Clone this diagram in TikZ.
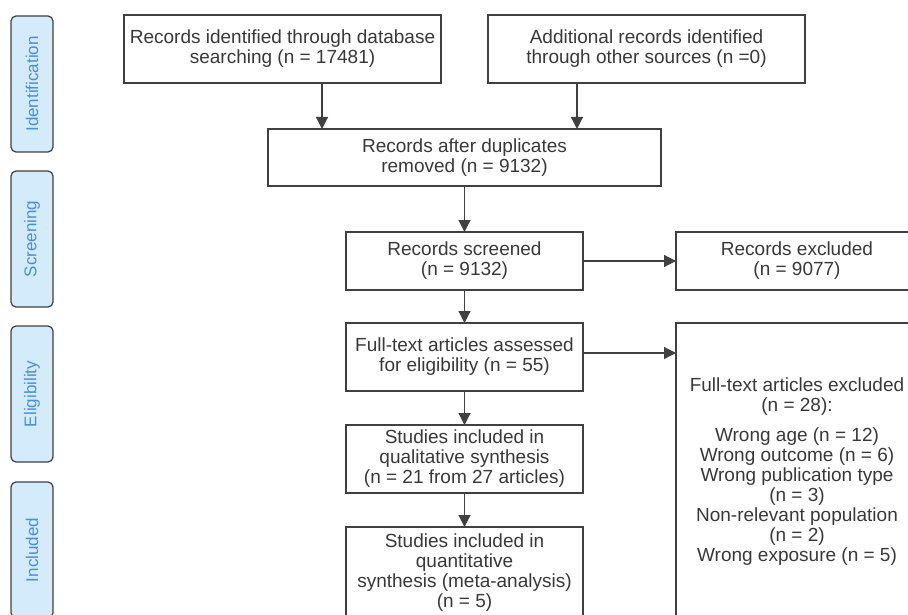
\documentclass[tikz,border=0pt]{standalone}
\usepackage{fontspec}
\setmainfont{Liberation Sans}
\usetikzlibrary{arrows.meta}
\definecolor{boxline}{HTML}{404040}
\definecolor{textgray}{HTML}{383838}
\definecolor{tabfill}{HTML}{D3EBFB}
\definecolor{tabtext}{HTML}{4A8FD8}

\begin{document}
\begin{tikzpicture}[
    x=1pt, y=-1pt,
    recordnode/.style={rectangle, draw=boxline, line width=1.2pt, text=textgray, inner sep=0pt, outer sep=0pt, align=center, font=\fontsize{19}{20}\selectfont},
    phasenode/.style={rectangle, rounded corners=5pt, draw=boxline, fill=tabfill, line width=1.2pt, text=tabtext, rotate=90, minimum width=136pt, minimum height=42pt, inner sep=0pt, font=\fontsize{17}{18}\selectfont},
    flow/.style={line width=1.2pt, draw=boxline, -{Triangle[length=12pt,width=12pt]}},
]
    \useasboundingbox (0,0) rectangle (908,615);
    \clip (0,0) rectangle (908,615);

    %Phases
    \node[phasenode] (ident) at (32,84) {Identification};
    \node[phasenode] (screen) at (32,239) {Screening};
    \node[phasenode] (elig) at (32,394) {Eligibility};
    \node[phasenode] (incl) at (32,550) {Included};

    %Nodes
    \node[recordnode, minimum width=317pt, minimum height=68pt] (dbrec) at (282.5,49) {Records identified through database\\searching (n = 17481)};
    \node[recordnode, minimum width=317pt, minimum height=68pt] (otherrec) at (646.5,49) {Additional records identified\\through other sources (n =0)};
    \node[recordnode, minimum width=393pt, minimum height=57pt] (dedup) at (464.5,157.5) {Records after duplicates\\removed (n = 9132)};
    \node[recordnode, minimum width=237pt, minimum height=58pt] (screened) at (464.5,261) {Records screened\\(n = 9132)};
    \node[recordnode, minimum width=242pt, minimum height=58pt] (recexcl) at (797,261) {Records excluded\\(n = 9077)};
    \node[recordnode, minimum width=237pt, minimum height=68pt] (fulltext) at (464.5,357) {Full-text articles assessed\\for eligibility (n = 55)};
    \node[recordnode, minimum width=242pt, minimum height=298pt] (ftexcl) at (797,472) {Full-text articles excluded\\(n = 28):\\[10pt]Wrong age (n = 12)\\Wrong outcome (n = 6)\\Wrong publication type\\(n = 3)\\Non-relevant population\\(n = 2)\\Wrong exposure (n = 5)};
    \node[recordnode, minimum width=237pt, minimum height=68pt] (qual) at (464.5,459) {Studies included in\\qualitative synthesis\\(n = 21 from 27 articles)};
    \node[recordnode, minimum width=237pt, minimum height=92pt] (quant) at (464.5,573) {Studies included in\\quantitative\\synthesis (meta-analysis)\\(n = 5)};

    %Lines
    \draw[flow] ([xshift=39.5pt]dbrec.south) -- ([xshift=39.5pt]dbrec.south |- dedup.north);
    \draw[flow] ([xshift=-69.5pt]otherrec.south) -- ([xshift=-69.5pt]otherrec.south |- dedup.north);
    \draw[flow] (dedup) -- (screened);
    \draw[flow] (screened) -- (recexcl);
    \draw[flow] (screened) -- (fulltext);
    \draw[flow] ([yshift=4pt]fulltext.east) -- ([yshift=4pt]fulltext.east -| ftexcl.west);
    \draw[flow] (fulltext) -- (qual);
    \draw[flow] (qual) -- (quant);
\end{tikzpicture}
\end{document}
